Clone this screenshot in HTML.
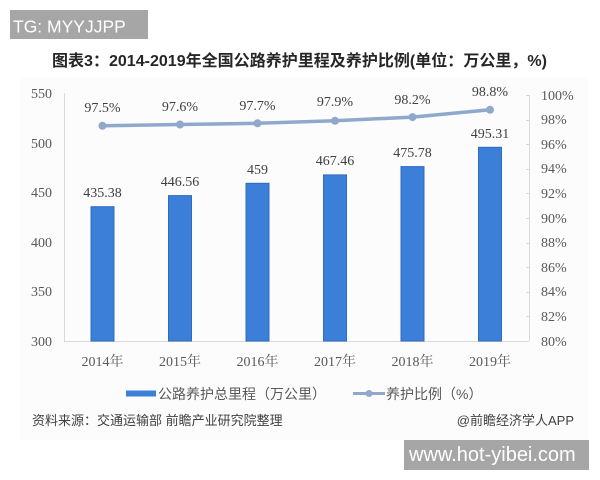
<!DOCTYPE html>
<html><head><meta charset="utf-8"><style>
html,body{margin:0;padding:0;background:#fff;}
body{width:600px;height:480px;overflow:hidden;position:relative;}
svg{position:absolute;left:0;top:0;}
.serif{font-family:"Liberation Serif","Noto Serif CJK SC",serif;}
.sans{font-family:"Liberation Sans","Noto Sans CJK SC",sans-serif;}
</style></head><body>
<svg width="600" height="480" viewBox="0 0 600 480" xmlns="http://www.w3.org/2000/svg">
  <rect x="0" y="0" width="600" height="480" fill="#ffffff"/>
  <rect x="20" y="78" width="568" height="362" fill="#fcfcfc"/>
  <!-- TG box -->
  <rect x="10" y="10" width="138" height="29" fill="#a6a6a6"/>
  <text x="13" y="32.5" class="sans" font-size="17.5" fill="#ffffff">TG: MYYJJPP</text>
  <!-- Title -->
  <text x="52" y="66" class="sans" font-size="16" font-weight="bold" fill="#262626" textLength="495" lengthAdjust="spacingAndGlyphs">图表3：2014-2019年全国公路养护里程及养护比例(单位：万公里，%)</text>

  <!-- axes -->
  <line x1="64.5" y1="93" x2="64.5" y2="341" stroke="#d9d9d9" stroke-width="1"/>
  <line x1="64" y1="341.5" x2="529" y2="341.5" stroke="#d9d9d9" stroke-width="1"/>
  <line x1="529.5" y1="95" x2="529.5" y2="341" stroke="#d9d9d9" stroke-width="1"/>
  <g stroke="#d9d9d9" stroke-width="1">
    <line x1="526" y1="95.5" x2="529" y2="95.5"/>
    <line x1="526" y1="120.5" x2="529" y2="120.5"/>
    <line x1="526" y1="144.5" x2="529" y2="144.5"/>
    <line x1="526" y1="169.5" x2="529" y2="169.5"/>
    <line x1="526" y1="193.5" x2="529" y2="193.5"/>
    <line x1="526" y1="218.5" x2="529" y2="218.5"/>
    <line x1="526" y1="243.5" x2="529" y2="243.5"/>
    <line x1="526" y1="267.5" x2="529" y2="267.5"/>
    <line x1="526" y1="292.5" x2="529" y2="292.5"/>
    <line x1="526" y1="316.5" x2="529" y2="316.5"/>
  </g>

  <!-- left axis labels -->
  <g class="serif" font-size="14" fill="#595959" text-anchor="end">
    <text x="52" y="98">550</text>
    <text x="52" y="148">500</text>
    <text x="52" y="197">450</text>
    <text x="52" y="247">400</text>
    <text x="52" y="296">350</text>
    <text x="52" y="346">300</text>
  </g>
  <!-- right axis labels -->
  <g class="serif" font-size="14" fill="#595959">
    <text x="541" y="100">100%</text>
    <text x="541" y="124">98%</text>
    <text x="541" y="149">96%</text>
    <text x="541" y="173">94%</text>
    <text x="541" y="198">92%</text>
    <text x="541" y="223">90%</text>
    <text x="541" y="247">88%</text>
    <text x="541" y="272">86%</text>
    <text x="541" y="296">84%</text>
    <text x="541" y="321">82%</text>
    <text x="541" y="346">80%</text>
  </g>

  <!-- bars -->
  <g fill="#3b7fd8" stroke="#2f6cc0" stroke-width="1">
    <rect x="91" y="206.7" width="23" height="134.3"/>
    <rect x="168.5" y="195.6" width="23" height="145.4"/>
    <rect x="246" y="183.3" width="23" height="157.7"/>
    <rect x="323.5" y="174.9" width="23" height="166.1"/>
    <rect x="401" y="166.6" width="23" height="174.4"/>
    <rect x="478.5" y="147.3" width="23" height="193.7"/>
  </g>
  <!-- bar labels -->
  <g class="serif" font-size="14" fill="#404040" text-anchor="middle">
    <text x="102.5" y="197">435.38</text>
    <text x="180" y="186">446.56</text>
    <text x="257.5" y="174">459</text>
    <text x="335" y="165">467.46</text>
    <text x="412.5" y="157">475.78</text>
    <text x="490" y="138">495.31</text>
  </g>

  <!-- line -->
  <polyline points="102.5,125.8 180,124.5 257.5,123.3 335,120.8 412.5,117.1 490,109.8" fill="none" stroke="#8fa8cc" stroke-width="3.5" stroke-linejoin="round" stroke-linecap="round"/>
  <g fill="#8fa8cc">
    <circle cx="102.5" cy="125.8" r="4"/>
    <circle cx="180" cy="124.5" r="4"/>
    <circle cx="257.5" cy="123.3" r="4"/>
    <circle cx="335" cy="120.8" r="4"/>
    <circle cx="412.5" cy="117.1" r="4"/>
    <circle cx="490" cy="109.8" r="4"/>
  </g>
  <g class="serif" font-size="14" fill="#404040" text-anchor="middle">
    <text x="102.5" y="112">97.5%</text>
    <text x="180" y="111">97.6%</text>
    <text x="257.5" y="110">97.7%</text>
    <text x="335" y="106">97.9%</text>
    <text x="412.5" y="104">98.2%</text>
    <text x="490" y="96">98.8%</text>
  </g>

  <!-- year labels -->
  <g class="serif" font-size="14" fill="#595959" text-anchor="middle">
    <text x="102.5" y="366">2014年</text>
    <text x="180" y="366">2015年</text>
    <text x="257.5" y="366">2016年</text>
    <text x="335" y="366">2017年</text>
    <text x="412.5" y="366">2018年</text>
    <text x="490" y="366">2019年</text>
  </g>

  <!-- legend -->
  <rect x="126" y="390.5" width="30" height="6" fill="#3b7fd8"/>
  <text x="158" y="399" class="sans" font-size="14" fill="#595959">公路养护总里程（万公里）</text>
  <line x1="353" y1="393.5" x2="385" y2="393.5" stroke="#8fa8cc" stroke-width="3"/>
  <circle cx="369" cy="393.5" r="3.5" fill="#8fa8cc"/>
  <text x="386" y="399" class="sans" font-size="14" fill="#595959">养护比例（%）</text>

  <!-- source -->
  <text x="32" y="425" class="sans" font-size="13" fill="#404040">资料来源：交通运输部 前瞻产业研究院整理</text>
  <text x="574" y="425" class="sans" font-size="13" fill="#404040" text-anchor="end">@前瞻经济学人APP</text>

  <!-- bottom box -->
  <rect x="404" y="440" width="185" height="30" fill="#a6a6a6"/>
  <text x="409" y="461" class="sans" font-size="20" fill="#ffffff">www.hot-yibei.com</text>
</svg>
</body></html>
